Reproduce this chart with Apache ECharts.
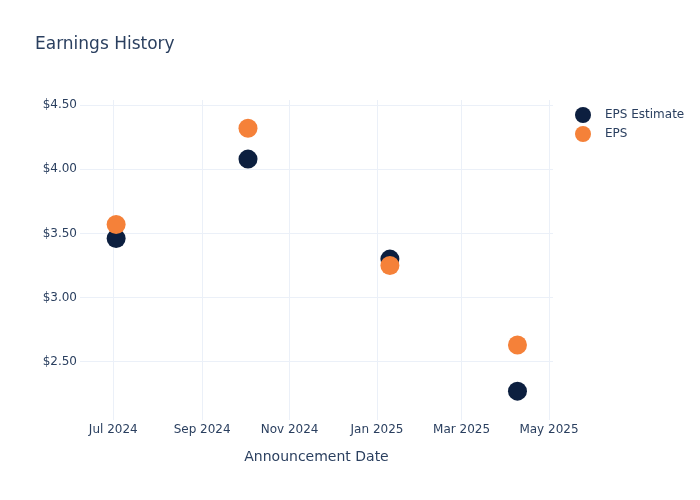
<!DOCTYPE html>
<html>
<head>
<meta charset="utf-8">
<script src="https://cdn.jsdelivr.net/npm/echarts@6/dist/echarts.min.js"></script>
<style>html,body{margin:0;padding:0;background:#fff;}#c{width:700px;height:500px;}</style>
</head>
<body>
<div id="c"></div>
<script>
const announcementDates = ['2024-07-03', '2024-10-03', '2025-01-10', '2025-04-09'];
const epsEstimate = [3.46, 4.08, 3.30, 2.27];
const epsActual = [3.57, 4.32, 3.25, 2.63];
const xTickDates = ['2024-07-01', '2024-09-01', '2024-11-01', '2025-01-01', '2025-03-01', '2025-05-01'];
const xTickLabels = ['Jul 2024', 'Sep 2024', 'Nov 2024', 'Jan 2025', 'Mar 2025', 'May 2025'];
const yTicks = [2.5, 3.0, 3.5, 4.0, 4.5];

const ts = s => Date.parse(s + 'T00:00:00Z');
const xTickTs = xTickDates.map(ts);
const font = 'DejaVu Sans, sans-serif';
const textColor = '#2a3f5f';
const gridColor = '#ebf0f8';

const chart = echarts.init(document.getElementById('c'));
chart.setOption({
  animation: false,
  backgroundColor: '#fff',
  textStyle: { fontFamily: font, color: textColor },
  title: {
    text: 'Earnings History',
    left: 35, top: 36, padding: 0,
    textStyle: { fontFamily: font, fontSize: 17, fontWeight: 'normal', color: textColor }
  },
  legend: {
    orient: 'vertical',
    left: 575, top: 107, padding: 0,
    itemWidth: 34, itemHeight: 16, itemGap: 3,
    icon: 'circle',
    textStyle: { fontFamily: font, fontSize: 12, color: textColor },
    data: ['EPS Estimate', 'EPS']
  },
  grid: { left: 80, right: 147, top: 100, bottom: 80, containLabel: false },
  xAxis: {
    type: 'value',
    min: ts('2024-06-08') - 5 * 3600e3,
    max: ts('2025-05-03') + 19 * 3600e3,
    name: 'Announcement Date',
    nameLocation: 'middle',
    nameGap: 30,
    nameTextStyle: { fontFamily: font, fontSize: 14, color: textColor },
    axisLine: { show: false },
    axisTick: { show: false, customValues: xTickTs },
    axisLabel: {
      customValues: xTickTs,
      margin: 4,
      showMinLabel: true, showMaxLabel: true,
      fontFamily: font, fontSize: 12, color: textColor,
      formatter: v => {
        const i = xTickTs.indexOf(v);
        return i >= 0 ? xTickLabels[i] : '';
      }
    },
    splitLine: { show: true, lineStyle: { color: gridColor, width: 1 } }
  },
  yAxis: {
    type: 'value',
    min: 2.045,
    max: 4.541,
    axisLine: { show: false },
    axisTick: { show: false, customValues: yTicks },
    axisLabel: {
      customValues: yTicks,
      margin: 3,
      fontFamily: font, fontSize: 12, color: textColor,
      formatter: v => '$' + v.toFixed(2)
    },
    splitLine: { show: true, lineStyle: { color: gridColor, width: 1 } }
  },
  series: [
    {
      name: 'EPS Estimate',
      type: 'scatter',
      symbol: 'circle',
      symbolSize: 19,
      itemStyle: { color: '#0c1f3f', opacity: 1 },
      data: announcementDates.map((d, i) => [ts(d), epsEstimate[i]]),
      z: 2
    },
    {
      name: 'EPS',
      type: 'scatter',
      symbol: 'circle',
      symbolSize: 19,
      itemStyle: { color: '#f58139', opacity: 1 },
      data: announcementDates.map((d, i) => [ts(d), epsActual[i]]),
      z: 3
    }
  ]
});
</script>
</body>
</html>
